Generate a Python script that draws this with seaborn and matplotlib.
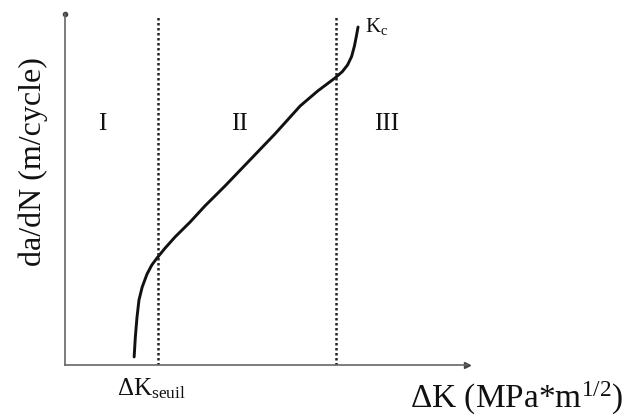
import matplotlib
matplotlib.use("Agg")
import matplotlib.pyplot as plt
import seaborn as sns
import pandas as pd

# Schematic fatigue crack growth curve (arbitrary units, 0-100)
delta_k = [17.2, 17.5, 17.9, 18.4, 19.2, 20.4, 21.6, 22.9, 24.9, 27.4, 31.1,
           34.8, 39.8, 46.0, 52.2, 58.5, 62.9, 67.2, 69.0, 70.3, 71.3, 72.0,
           72.5, 72.9]
da_dn = [2.3, 8.0, 13.5, 18.5, 22.2, 25.9, 28.5, 30.5, 33.3, 36.5, 40.7,
         45.3, 51.0, 58.4, 65.8, 73.8, 78.1, 81.8, 83.6, 85.5, 87.9, 90.9,
         93.8, 96.3]
boundaries = [23.1, 67.4]          # ΔK_seuil and start of region III
region_labels = ["I", "II", "III"]
region_x = [9.2, 43.5, 80.1]
region_y = 68.6

sns.set_style("white")
plt.rcParams["font.family"] = ["Liberation Serif", "DejaVu Serif"]
plt.rcParams["mathtext.fontset"] = "custom"
plt.rcParams["mathtext.rm"] = "Liberation Serif"
plt.rcParams["mathtext.it"] = "Liberation Serif:italic"

fig = plt.figure(figsize=(6.29, 4.15), dpi=100)
ax = fig.add_axes([65 / 629, 1 - 365 / 415, (467 - 65) / 629, (365 - 14) / 415])

df = pd.DataFrame({"dK": delta_k, "dadN": da_dn})
sns.lineplot(data=df, x="dK", y="dadN", sort=False, ax=ax, color="#111111",
             linewidth=2.1)
ax.lines[-1].set_solid_joinstyle("round")

for b in boundaries:
    ax.axvline(b, ymin=0, ymax=0.994, color="#222222", linestyle=(0, (1, 1)),
               linewidth=1.8)

for lab, xx in zip(region_labels, region_x):
    ax.text(xx, region_y, lab, ha="center", va="center", fontsize=18,
            color="#111111")

ax.set_xlim(0, 100)
ax.set_ylim(0, 100)
ax.set_xticks([])
ax.set_yticks([])
ax.set_xlabel("")
ax.set_ylabel("")
for s in ["top", "right"]:
    ax.spines[s].set_visible(False)
for s in ["left", "bottom"]:
    ax.spines[s].set_color("#666666")
    ax.spines[s].set_linewidth(1.2)

# axis end marks
ax.plot([1], [0], marker=">", markersize=4, color="#444444",
        transform=ax.transAxes, clip_on=False)
ax.plot([0], [1], marker="o", markersize=3, color="#444444",
        transform=ax.transAxes, clip_on=False)

ax.text(boundaries[1] + 7.3, 96.5, r"K$_{\rm c}$", ha="left", va="center",
        fontsize=15, color="#111111")

fig.text(117 / 629, 1 - 389 / 415, r"ΔK$_{\rm seuil}$", ha="left", va="center",
         fontsize=18, color="#111111")
fig.text(623 / 629, 1 - 398 / 415, r"ΔK (MPa*m$^{\rm 1/2}$)", ha="right",
         va="center", fontsize=24, color="#111111")
fig.text(33 / 629, 1 - 162 / 415, "da/dN (m/cycle)", rotation=90, ha="center",
         va="center", fontsize=23, color="#111111")

fig.savefig("out.png", dpi=100)
